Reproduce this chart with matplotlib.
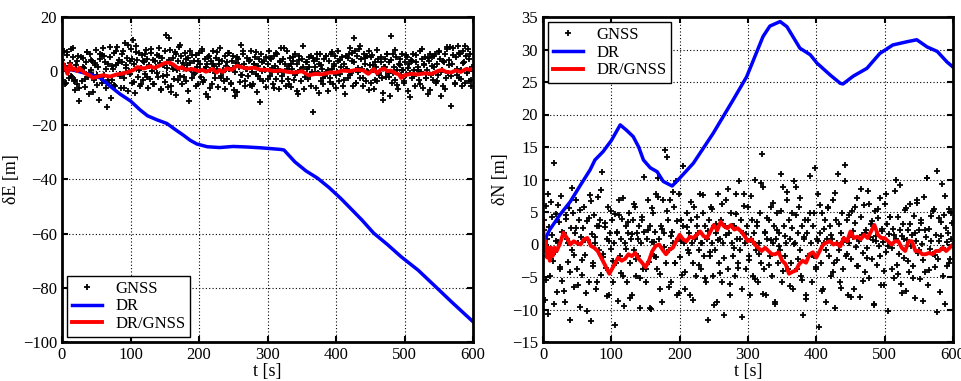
import numpy as np
import matplotlib
matplotlib.use("Agg")
import matplotlib.pyplot as plt

plt.rcParams['font.family'] = ['Liberation Serif', 'DejaVu Serif']

# ---------------- data ----------------
# GNSS fixes, first set (every 1.5 s) and second set (every 3 s, offset 0.75 s)
gnss_t_a = [i * 1.5 for i in range(400)]
gnss_t_b = [0.75 + i * 3.0 for i in range(200)]

gnss_E_a = [
    4.2, -3.1, 7.6, 1.8, -4.4, 6.9, 0.3, -2.5, 3.1, 8.2, -2.0, 5.3, -3.6, -6.8, 2.4, -4.9, 5.7, -11.2, 0.6, -3.8,
    4.9, 1.2, -5.7, 3.4, 7.1, -2.3, -8.6, 6.2, 0.4, 3.9, -1.6, -3.3, 2.1, 7.8, -5.2, 1.5, -10.8, 4.4, -2.6, 5.8,
    8.7, -1.4, 3.2, -6.1, -13.4, 2.5, -4.2, 5.1, -9.8, -3.1, 0.7, 6.8, -5.4, 2.2, 8.9, 4.3, -1.2, -6.3, 3.5, 7.6,
    -2.4, 10.3, 1.1, 4.8, -7.2, 0.2, 3.6, 8.1, -4.5, 11.6, 2.7, -7.9, 9.4, 4.1, -2.2, 6.6, -5.3, 1.3, 5.9, -3.4,
    3.3, -1.1, 7.9, 4.6, -6.4, 2.1, -2.8, 6.7, 0.1, 4.2, -4.8, 1.4, 5.8, -2.1, 8.6, 2.9, -6.7, 4.8, -1.9, 2.3,
    -4.1, 13.2, 1.3, -5.8, 12.4, 7.8, -7.6, 2.4, 4.7, -2.9, 6.9, -8.7, 0.4, 3.8, 8.8, -1.7, 5.6, -4.6, 3.1, 1.2,
    6.7, -3.8, 2.2, 4.9, -10.9, 7.6, 0.5, -2.7, 3.8, -0.8, 5.9, 1.7, -4.9, 6.8, 2.8, -2.2, 7.5, -4.1, 0.9, 4.6,
    -8.3, 2.6, -9.4, 5.7, 0.3, 3.7, -4.7, 7.4, 1.9, -2.6, 4.8, 0.8, -5.8, 2.7, 8.4, -1.8, 3.6, -0.3, -3.8, 5.5,
    1.8, -2.9, 6.6, 0.9, -4.7, 3.8, 5.7, -6.8, -0.4, 2.9, -7.7, 4.6, 1.7, -3.9, 9.6, -1.3, 6.4, 2.6, -5.6, 0.8,
    4.7, -1.9, 3.7, -5.2, 7.3, -0.2, -4.8, 2.8, 5.4, -1.2, -7.8, 1.9, 4.6, -2.9, 6.5, 0.2, -3.7, 3.7, 0.6, -5.7,
    2.8, 7.6, -1.8, 4.6, -0.3, -4.6, 5.6, 1.8, -2.8, 6.5, 0.7, -6.6, 3.7, 8.4, -1.7, 4.6, -0.2, 2.6, -5.5, 7.4,
    -2.8, 1.8, 4.7, -5.7, 0.8, 3.6, -3.4, 6.4, -0.7, 2.7, -8.6, 5.5, 0.3, -3.7, 4.6, 1.6, -6.6, 3.5, 0.7, -2.8,
    5.2, -1.6, 5.6, -0.2, -15.1, 3.6, 1.6, -6.4, 4.5, -0.6, 2.6, 6.5, -3.6, 0.8, -4.8, 4.4, -1.7, 5.5, -0.3, -7.5,
    3.6, -2.7, 6.4, 0.8, -4.6, 2.7, 5.6, -1.5, -0.2, 7.4, -3.5, 4.3, 1.6, -5.6, 2.8, -8.5, 5.6, 0.7, -2.6, 6.4,
    8.4, -0.8, 3.6, -5.4, 12.3, 7.5, -4.5, 5.5, -0.4, 8.3, -2.4, 4.5, 0.8, -5.4, 6.5, 2.7, -3.6, 5.6, -0.3, 7.4,
    2.3, -4.3, 5.8, 0.6, -6.5, 3.4, 1.7, -3.5, 4.4, -1.4, 5.3, -2.6, -10.6, 1.6, 4.5, -2.3, 6.3, -0.6, 3.3, -9.2,
    13.1, -4.4, 6.2, 1.5, -3.4, 5.3, 0.4, -6.5, 2.5, 4.4, -1.3, 6.3, 0.6, -4.5, 3.4, -1.5, 5.4, -7.3, 2.6, -0.5,
    4.3, -2.4, 6.4, 0.5, -5.3, 3.4, 1.5, -3.3, 7.3, -0.4, 4.5, -6.4, 2.4, 5.3, -2.5, 0.6, -8.4, 3.6, 6.4, -1.6,
    5.3, -3.3, 1.4, 6.3, -4.4, 2.6, -1.4, 7.3, 4.4, -9.3, 0.5, -5.4, 3.3, 6.5, -2.6, 8.2, -0.5, 4.3, 9.1, -12.9,
    2.5, 8.4, -4.3, 5.3, -1.4, 9.2, -2.5, 6.4, 0.5, -5.3, 7.3, 3.4, -4.4, 5.6, 0.4, 8.3, -3.5, 6.2, -5.5, 1.6,
]
gnss_E_b = [
    2.6, -4.7, 6.1, 0.9, -1.8, 8.4, -3.2, 3.7, -6.2, 5.4, 1.6, -2.9, 7.2, -0.6, 4.1, -7.6, 2.9, -1.3, 6.3, -4.3,
    5.6, 0.7, -3.4, 9.1, 1.9, -5.1, 7.4, 3.1, -1.7, 6.2, -6.4, 2.4, 9.8, -0.9, 4.6, -3.9, 7.1, 0.5, -4.6, 3.8,
    6.4, -2.3, 1.8, 8.2, -4.7, 3.6, -0.5, 5.7, -7.1, 2.3, 7.3, -1.6, 4.1, -5.6, 0.8, 6.2, -3.1, 9.7, 1.4, -2.1,
    4.4, -7.2, 2.9, 6.1, -1.2, -5.3, 3.9, 0.6, 8.1, -3.4, 1.5, 5.2, -6.3, 2.6, -0.8, 7.2, 4.1, -2.5, 0.4, -6.6,
    3.2, 6.7, -4.2, 1.1, -9.1, 5.1, 2.4, -1.4, 7.5, -3.6, 0.8, 4.2, -5.4, 2.7, 6.9, -1.9, -11.3, 3.3, 0.9, 5.4,
    -2.9, 4.9, 1.3, -6.1, 6.7, -0.4, 3.2, -3.6, 8.6, 0.9, -4.9, 2.8, 5.3, -1.4, -7.2, 4.3, 0.6, 9.4, -2.2, 3.5,
    1.7, -5.3, 4.8, -0.6, 6.2, -8.1, 2.1, -2.4, 5.7, 0.3, -4.1, 7.1, 1.8, -6.2, 3.6, -1.1, 5.2, -3.3, 0.8, 4.9,
    -1.6, 6.8, 3.2, -4.4, 1.2, 9.4, -2.7, 4.7, 0.2, -6.8, 5.1, 2.2, -3.2, 7.9, -0.6, 3.3, -7.9, 1.5, 6.2, -2.2,
    4.2, -0.7, 7.7, -5.2, 2.3, 0.6, -3.7, 5.9, 1.1, -9.6, 3.9, -1.8, 6.1, 0.3, -4.6, 8.1, 2.7, -2.4, 4.8, -6.9,
    1.9, 5.6, -3.6, 7.2, -0.3, 3.8, -6.7, 8.8, 2.4, -1.9, 5.8, -4.9, 0.8, 6.6, -2.8, 3.1, 9.3, -0.8, 4.5, -3.2,
]

gnss_N_a = [
    -1.8, 3.7, -8.6, 5.9, 0.8, -10.7, 2.7, -4.8, 6.6, 1.5, -2.6, 12.6, -1.1, 4.7, -7.3, 0.4, 3.5, -3.8, 7.4, -5.6,
    1.8, -8.8, 4.5, 0.9, -2.7, 5.6, -11.6, 2.6, -0.8, 4.8, -6.6, 1.7, 6.8, -3.7, 0.3, 3.8, -9.6, 1.2, -4.7, 2.6,
    5.7, -1.6, -7.4, 3.6, 0.7, -5.8, 7.6, -11.8, 1.6, -2.8, 4.6, 0.2, -6.8, 2.8, 7.3, -0.9, 3.7, -4.7, 11.2, -1.9,
    2.7, -3.6, 0.8, 5.8, -7.7, 1.7, -0.7, 3.8, -5.7, 0.3, 4.7, -2.8, 1.9, -8.7, 6.8, -1.7, 0.9, 3.9, -4.8, -9.4,
    0.2, 2.8, -5.8, 1.8, 4.8, -2.9, 0.8, -7.8, 3.8, -0.8, 5.8, -4.8, 1.8, -1.8, 2.9, -9.7, 0.3, 3.8, -3.8, 1.9,
    -5.7, 0.9, 6.8, -2.7, 2.9, -9.9, 0.4, 4.8, -1.7, 1.9, 7.7, -3.7, 10.3, 0.9, -6.8, 2.8, -8.8, 6.9, 1.8, 14.6,
    -2.8, 13.4, 3.7, -0.8, 6.8, -5.8, 1.9, 0.2, 5.8, -2.8, 9.8, -7.7, 0.8, 7.7, -1.9, 3.8, -4.7, 2.8, 0.3, -6.8,
    4.8, -0.9, 1.8, -7.8, 3.8, 0.3, -2.8, 5.8, 0.9, -4.8, 2.8, 1.8, -0.8, 7.8, -3.8, 0.2, 4.8, -1.8, 2.8, -5.8,
    0.9, -11.6, 3.8, -1.8, 5.8, 0.3, -4.8, 2.8, -0.8, 1.8, -8.8, 7.8, -2.8, 0.9, 3.8, -5.8, 0.2, -10.8, 2.8, 6.8,
    -3.8, 1.8, -7.8, 4.8, 0.3, -1.8, 2.8, -4.8, 7.8, 0.9, -2.8, 9.8, -0.8, 3.8, -6.8, 1.8, 7.8, 0.2, -3.8, 2.8,
    5.8, -1.8, -7.8, 0.9, 3.8, -4.8, 1.8, 10.0, -0.8, 2.8, -5.8, 0.2, 4.8, -2.8, 13.9, 8.8, -3.8, 1.8, -7.8, 0.9,
    3.8, -1.8, 5.8, -4.8, 0.2, 2.8, -8.8, 0.9, 4.8, -2.8, 1.8, -0.8, 10.9, -5.8, 8.8, 2.8, -1.8, 0.2, 6.8, -3.8,
    3.8, 0.9, -2.8, 4.8, -6.8, 9.8, 0.2, 8.8, -3.8, 1.8, 5.8, -0.8, -4.8, 2.8, -10.8, 0.9, 3.8, -7.8, 1.8, -1.8,
    4.8, 0.2, -5.8, 2.8, -1.8, 11.8, -3.8, 0.9, 7.8, -12.7, 1.8, -2.8, 4.8, -6.8, 0.2, 3.8, -8.8, 0.9, 5.8, -1.8,
    2.8, -4.8, 0.9, 6.8, -2.8, -9.8, 3.8, 0.2, 10.8, -0.8, -5.8, 1.8, 4.8, -3.8, 0.9, 9.8, -1.8, 3.8, -7.8, 0.2,
    -2.3, 5.1, 1.2, -6.9, 3.3, -0.4, 7.2, -3.3, 0.6, -8.1, 4.2, 1.4, -1.3, 6.1, -4.2, 2.2, -0.6, 8.3, -5.2, 1.1,
    3.1, -2.2, 0.7, -9.3, 5.2, 1.3, -3.2, 4.1, -0.3, 7.1, -6.2, 2.1, 0.4, -4.1, 6.2, -1.2, 3.2, -10.2, 1.6, 4.3,
    -0.6, 2.4, -5.1, 8.2, 0.8, -3.1, 4.2, -1.4, 9.1, -6.1, 1.3, 3.1, -2.1, 5.3, -7.2, 0.7, 2.2, -4.2, 6.3, -0.2,
    1.4, -3.3, 4.4, -8.2, 0.5, 6.4, -1.3, 2.3, -5.3, 3.3, 0.1, -2.4, 7.3, -4.3, 1.2, 10.2, -6.3, 2.4, -0.7, 4.4,
    -1.4, 5.4, -3.4, 1.5, 11.3, -2.2, 0.6, -7.3, 3.4, 9.3, -0.5, 4.5, -9.2, 2.5, -3.3, 1.7, 5.5, -2.3, 0.8, 3.3,
]
gnss_N_b = [
    2.3, -5.4, 7.8, -1.3, 4.2, -9.2, 0.6, 6.1, -3.4, 1.9, -7.1, 3.9, 0.2, -4.3, 8.7, -1.6, 2.6, -6.2, 5.3, -2.4,
    0.7, -10.3, 4.1, 6.7, -3.3, 1.1, -5.7, 2.9, 8.4, -1.4, 3.3, -7.9, 0.5, 5.1, -2.6, -12.4, 1.7, 4.5, -4.4, 7.1,
    -0.7, 3.4, -8.3, 1.6, 6.3, -2.2, 0.9, -5.1, 4.3, 10.4, -3.7, 2.2, -9.8, 5.6, 0.4, -1.9, 7.3, -4.6, 2.4, -0.4,
    5.2, -6.6, 1.3, 8.1, -2.9, 3.6, -7.4, 0.6, 12.1, -4.2, 2.7, -1.3, 6.6, -8.6, 1.1, 4.2, -3.1, 0.3, 7.6, -5.2,
    2.1, -1.1, 5.4, -9.3, 3.1, 0.7, -4.4, 6.2, -2.1, 1.4, 8.6, -6.1, 2.9, -0.6, 4.7, -3.6, 0.8, -11.1, 5.9, 1.6,
    -2.4, 7.4, 0.4, -5.3, 3.4, -1.4, 9.4, -7.6, 1.9, 4.1, -3.2, 0.7, 6.4, -9.1, 2.3, -0.3, 5.2, -4.1, 1.3, 8.1,
    -6.4, 2.6, 0.1, 4.6, -2.3, 7.2, -5.4, 1.2, -8.4, 3.7, 10.6, -1.6, 4.9, -3.4, 0.6, 6.1, -7.1, 2.4, -0.9, 5.6,
    1.5, -4.3, 7.9, -2.4, 3.1, -6.7, 0.4, 12.3, -1.4, 4.6, -8.1, 2.1, 5.7, -3.3, 0.9, 8.6, -5.6, 1.8, -2.1, 6.2,
    3.6, -9.1, 0.6, 5.4, -1.7, 2.4, -6.3, 7.7, -0.2, 4.3, -3.7, 1.4, 9.9, -4.6, 2.2, -7.4, 0.9, 5.6, -2.6, 3.2,
    -5.1, 1.7, 6.9, -0.9, 3.8, -8.7, 2.3, 10.3, -3.9, 0.6, 5.1, -1.6, -10.4, 4.1, 1.3, -4.8, 7.4, 0.4, -2.9, 4.9,
]

dr_E_t = [0, 15, 30, 45, 56, 70, 85, 100, 114, 125, 139, 153, 165, 177, 187, 197, 212,
          230, 250, 270, 290, 305, 319, 324, 340, 356, 373, 390, 407, 421, 438, 455,
          475, 495, 520, 543, 570, 600]
dr_E = [0.8, 0.5, -0.5, -1.5, -2.5, -5.5, -8.5, -11.0, -14.3, -16.5, -18.0, -19.3,
        -21.5, -23.6, -25.5, -26.9, -27.9, -28.2, -27.8, -28.0, -28.3, -28.6, -28.9,
        -29.1, -33.5, -36.8, -39.5, -43.0, -47.0, -50.6, -55.0, -59.8, -64.0, -68.5,
        -73.5, -79.0, -85.5, -92.5]

fused_E_t = [0, 3, 5, 8, 12, 15, 18, 22, 25, 30, 35, 40, 45, 52, 60, 70, 80, 90, 100,
             105, 110, 120, 128, 135, 142, 150, 157, 162, 170, 175, 180, 190, 200, 205,
             210, 220, 226, 230, 235, 240, 248, 255, 262, 270, 280, 290, 300, 310, 320,
             330, 340, 350, 360, 370, 380, 390, 400, 410, 420, 430, 440, 447, 455, 460,
             465, 470, 475, 480, 487, 492, 495, 500, 510, 520, 530, 540, 548, 555, 560,
             568, 575, 582, 590, 595, 600]
fused_E = [3.5, 2.0, 1.0, -1.0, 2.5, 0.5, 1.0, 0.0, 1.2, 0.0, -1.0, -1.5, -2.5, -2.0,
           -1.5, -2.0, -1.2, -0.8, 0.0, 0.5, 1.5, 1.0, 1.8, 1.2, 2.0, 3.0, 3.2, 2.5,
           1.0, 1.5, 0.5, 0.8, 0.0, 0.5, -0.2, 0.8, -0.5, 0.5, -0.3, 1.0, 0.5, 2.0,
           1.5, 1.0, 1.3, 0.5, 0.5, 0.0, 0.3, -0.3, -0.5, 0.0, -1.5, -1.0, -1.2, -0.5,
           -0.5, 0.2, 0.0, 0.5, 0.3, -1.0, 0.8, -0.8, 0.5, 1.0, 0.0, 0.2, -0.8, -1.2,
           -2.5, -1.5, -1.0, -1.2, -0.8, -1.0, 0.0, 0.5, -0.2, -0.5, 0.3, -0.3, 0.8,
           0.5, 1.0]

dr_N_t = [0, 10, 25, 40, 54, 69, 76, 88, 100, 113, 122, 132, 140, 147, 157, 167, 176,
          189, 200, 220, 249, 278, 298, 322, 332, 347, 357, 376, 391, 401, 420, 435,
          439, 454, 474, 493, 512, 533, 547, 562, 577, 591, 600]
dr_N = [0.2, 2.3, 4.6, 6.6, 9.0, 11.5, 13.0, 14.3, 16.0, 18.4, 17.6, 16.6, 15.0, 13.0,
        11.8, 11.2, 9.7, 9.0, 10.2, 12.5, 17.1, 22.2, 25.8, 32.0, 33.6, 34.3, 33.5,
        30.2, 29.2, 27.9, 26.1, 24.8, 24.7, 25.9, 27.1, 29.4, 30.7, 31.2, 31.5, 30.4,
        29.7, 28.1, 27.3]

fused_N_t = [0, 2, 4, 6, 8, 10, 12, 14, 17, 20, 25, 30, 35, 40, 45, 50, 55, 60, 65,
             70, 75, 80, 85, 90, 97, 105, 110, 115, 120, 125, 130, 135, 140, 145, 150,
             155, 160, 165, 170, 175, 180, 185, 190, 195, 200, 205, 210, 215, 220, 225,
             230, 235, 240, 245, 250, 255, 260, 265, 270, 275, 280, 285, 290, 295, 300,
             305, 310, 315, 320, 325, 330, 335, 340, 345, 350, 355, 360, 365, 370, 375,
             380, 385, 390, 395, 400, 405, 410, 415, 420, 425, 430, 435, 440, 445, 450,
             455, 460, 465, 470, 475, 480, 485, 490, 495, 500, 505, 510, 515, 520, 525,
             530, 535, 540, 545, 550, 555, 560, 565, 570, 575, 580, 585, 590, 595, 600]
fused_N = [3.5, -1.0, 0.5, -2.0, -0.5, -2.5, -0.5, -1.8, -0.5, -1.0, 0.2, 1.8, 1.0,
           0.0, 0.5, 0.2, 0.0, 0.8, 1.0, -0.2, -0.5, -1.0, -2.0, -3.0, -4.5, -3.0,
           -2.0, -2.5, -2.2, -1.5, -1.8, -1.3, -2.2, -2.8, -3.5, -2.5, -1.0, -0.2,
           0.0, -0.8, -1.5, -0.8, -0.5, 0.5, 1.5, 0.8, 0.5, 1.2, 1.0, 1.5, 2.0, 1.3,
           1.0, 2.0, 3.0, 2.2, 3.5, 2.8, 2.5, 3.0, 2.3, 2.5, 2.0, 1.3, 0.5, 0.8, 0.0,
           -0.5, -1.0, -0.5, -1.0, -1.5, -1.5, -1.2, -2.5, -3.0, -4.5, -4.2, -4.0,
           -3.0, -2.5, -2.8, -1.5, -1.2, -2.0, -1.0, 0.0, 0.3, 0.5, 0.0, 0.2, -0.3,
           1.0, 0.5, 2.0, 1.0, 1.2, 0.8, 1.5, 1.0, 2.0, 3.0, 1.5, 1.0, 1.0, 0.5, 0.0,
           0.5, 0.5, -0.5, -1.0, 0.5, 0.5, -1.0, -1.0, -1.5, -1.5, -1.3, -1.5, -1.0,
           -1.0, -0.5, -1.0, -0.5, 0.0]

x_ticks = [0, 100, 200, 300, 400, 500, 600]
E_ticks = [-100, -80, -60, -40, -20, 0, 20]
N_ticks = [-15, -10, -5, 0, 5, 10, 15, 20, 25, 30, 35]
legend_labels = ['GNSS', 'DR', 'DR/GNSS']

# ---------------- figure ----------------
W, H = 961, 381
fig = plt.figure(figsize=(W / 100, H / 100), dpi=100)
axL = fig.add_axes([62 / W, (H - 342) / H, 411 / W, 325 / H])
axR = fig.add_axes([543 / W, (H - 342) / H, 410 / W, 325 / H])


def draw(ax, g_t, g, dr_t, dr, f_t, f, yticks, ylabel, loc):
    h1, = ax.plot(g_t, g, linestyle='none', marker='+', color='black',
                  markersize=5, markeredgewidth=1.3, label=legend_labels[0])
    h2, = ax.plot(dr_t, dr, color='#0000ff', linewidth=2.5, label=legend_labels[1])
    h3, = ax.plot(f_t, f, color='#ff0000', linewidth=2.8, label=legend_labels[2])
    ax.set_xlim(0, 600)
    ax.set_ylim(yticks[0], yticks[-1])
    ax.set_xticks(x_ticks)
    ax.set_yticks(yticks)
    ax.grid(True, color='black', linestyle=(0, (1, 2)), linewidth=0.8)
    ax.tick_params(direction='in', top=True, right=True, length=4, width=1.5,
                   labelsize=12)
    for s in ax.spines.values():
        s.set_linewidth(2.0)
    ax.set_xlabel('t [s]', fontsize=13, labelpad=0)
    ax.set_ylabel(ylabel, fontsize=13, labelpad=2)
    leg = ax.legend(handles=[h1, h2, h3], loc=loc, fontsize=12, frameon=True,
                    fancybox=False, edgecolor='black', framealpha=1,
                    borderaxespad=0.3, handlelength=1.8, labelspacing=0.1,
                    borderpad=0.3)
    leg.get_frame().set_linewidth(1.0)


draw(axL, gnss_t_a + gnss_t_b, gnss_E_a + gnss_E_b, dr_E_t, dr_E, fused_E_t, fused_E,
     E_ticks, 'δE [m]', 'lower left')
draw(axR, gnss_t_a + gnss_t_b, gnss_N_a + gnss_N_b, dr_N_t, dr_N, fused_N_t, fused_N,
     N_ticks, 'δN [m]', 'upper left')

fig.savefig('out.png', dpi=100)
